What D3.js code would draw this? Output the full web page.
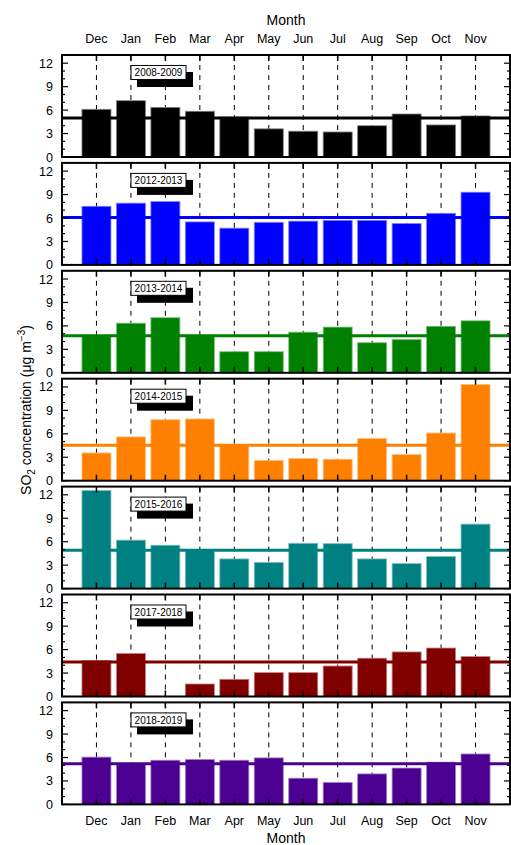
<!DOCTYPE html>
<html>
<head>
<meta charset="utf-8">
<script src="https://cdn.jsdelivr.net/npm/d3@7"></script>
<style>
  body { margin: 0; background: #fff; }
  text { font-family: "Liberation Sans", Arial, sans-serif; }
</style>
</head>
<body>
<div id="chartdiv"></div>
<script>
// data
var months = ["Dec", "Jan", "Feb", "Mar", "Apr", "May", "Jun", "Jul", "Aug", "Sep", "Oct", "Nov"];
var years = ["2008-2009", "2012-2013", "2013-2014", "2014-2015", "2015-2016", "2017-2018", "2018-2019"];
var colors = ["#000000", "#0000ff", "#008000", "#ff8000", "#008080", "#800000", "#4b0092"];

var so2_0809 = [6.1, 7.2, 6.35, 5.85, 5.1, 3.6, 3.3, 3.2, 4.0, 5.5, 4.1, 5.25];
var so2_1213 = [7.5, 7.9, 8.1, 5.5, 4.7, 5.45, 5.6, 5.7, 5.7, 5.3, 6.6, 9.3];
var so2_1314 = [4.8, 6.35, 7.05, 4.8, 2.7, 2.7, 5.2, 5.85, 3.85, 4.25, 5.95, 6.65];
var so2_1415 = [3.55, 5.6, 7.8, 7.9, 4.6, 2.6, 2.85, 2.75, 5.4, 3.35, 6.1, 12.3];
var so2_1516 = [12.55, 6.2, 5.55, 4.9, 3.8, 3.35, 5.8, 5.75, 3.8, 3.2, 4.1, 8.25];
var so2_1718 = [4.6, 5.5, null, 1.6, 2.2, 3.05, 3.05, 3.9, 4.9, 5.7, 6.2, 5.1];
var so2_1819 = [6.05, 5.2, 5.65, 5.75, 5.65, 5.95, 3.35, 2.8, 3.9, 4.65, 5.4, 6.45];
var series = [so2_0809, so2_1213, so2_1314, so2_1415, so2_1516, so2_1718, so2_1819];
var means = [5.0, 6.05, 4.75, 4.55, 4.9, 4.4, 5.2];

var yTicks = [0, 3, 6, 9, 12];

var width = 511,
    height = 845;

var left = 62, right = 510,
    top0 = 55, panelH = 102, panelStep = 107.9;

var svg = d3.select("#chartdiv")
    .append("svg")
    .attr("width", width)
    .attr("height", height);

var x = d3.scaleLinear()
    .domain([-1, 12])
    .range([left, right]);
var barW = 29;

// top month axis
svg.append("text")
    .attr("x", (x(0) + x(11)) / 2).attr("y", 25)
    .attr("text-anchor", "middle")
    .style("font-size", "14px")
    .text("Month");
svg.selectAll(".toplab")
    .data(months)
    .enter()
    .append("text")
    .attr("x", function (d, i) { return x(i); })
    .attr("y", 43)
    .attr("text-anchor", "middle")
    .style("font-size", "12.5px")
    .text(function (d) { return d; });

// panels
series.forEach(function (vals, p) {
    var ptop = top0 + p * panelStep;
    var y = d3.scaleLinear()
        .domain([0, 13.05])
        .range([ptop + panelH, ptop]);
    var g = svg.append("g");

    // dashed month lines
    g.selectAll(".grid")
        .data(months)
        .enter()
        .append("line")
        .attr("x1", function (d, i) { return x(i); })
        .attr("x2", function (d, i) { return x(i); })
        .attr("y1", ptop)
        .attr("y2", ptop + panelH)
        .attr("stroke", "#000")
        .attr("stroke-width", 1)
        .attr("stroke-dasharray", "5,5");

    // bars (missing months are skipped)
    var pts = vals.map(function (v, i) { return {i: i, v: v}; })
        .filter(function (d) { return d.v != null; });
    g.selectAll(".bar")
        .data(pts)
        .enter()
        .append("rect")
        .attr("x", function (d) { return x(d.i) - barW / 2; })
        .attr("width", barW)
        .attr("y", function (d) { return y(d.v); })
        .attr("height", function (d) { return y(0) - y(d.v); })
        .attr("fill", colors[p])
        .attr("stroke", d3.interpolateRgb(colors[p], "#fff")(0.5))
        .attr("stroke-width", 0.8);

    // mean line
    g.append("line")
        .attr("x1", left).attr("x2", right)
        .attr("y1", y(means[p])).attr("y2", y(means[p]))
        .attr("stroke", colors[p])
        .attr("stroke-width", 3);

    // left and right ticks
    var yMinor = d3.range(0, 13);
    [left, right].forEach(function (xe, s) {
        var dir = s == 0 ? 1 : -1;
        g.selectAll(".minor" + s)
            .data(yMinor)
            .enter()
            .append("line")
            .attr("x1", xe).attr("x2", function (d) { return xe + dir * (d % 3 == 0 ? 6 : 3); })
            .attr("y1", function (d) { return y(d); })
            .attr("y2", function (d) { return y(d); })
            .attr("stroke", "#000")
            .attr("stroke-width", 1.2);
    });

    // top and bottom ticks
    [ptop, ptop + panelH].forEach(function (ye, s) {
        var dir = s == 0 ? 1 : -1;
        g.selectAll(".xt" + s)
            .data(months)
            .enter()
            .append("line")
            .attr("x1", function (d, i) { return x(i); })
            .attr("x2", function (d, i) { return x(i); })
            .attr("y1", ye).attr("y2", ye + dir * 6)
            .attr("stroke", "#000")
            .attr("stroke-width", 1.5);
    });

    // y tick labels
    g.selectAll(".ylab")
        .data(yTicks)
        .enter()
        .append("text")
        .attr("x", left - 9)
        .attr("y", function (d) { return y(d); })
        .attr("dy", "0.36em")
        .attr("text-anchor", "end")
        .style("font-size", "12.5px")
        .text(function (d) { return d; });

    // frame
    g.append("rect")
        .attr("x", left).attr("y", ptop)
        .attr("width", right - left).attr("height", panelH)
        .attr("fill", "none")
        .attr("stroke", "#000")
        .attr("stroke-width", 2);

    // legend box with shadow
    g.append("rect")
        .attr("x", 137).attr("y", ptop + 17)
        .attr("width", 56).attr("height", 15)
        .attr("fill", "#000");
    g.append("rect")
        .attr("x", 131).attr("y", ptop + 10.5)
        .attr("width", 55).attr("height", 14)
        .attr("fill", "#fff")
        .attr("stroke", "#000")
        .attr("stroke-width", 1);
    g.append("text")
        .attr("x", 158.5).attr("y", ptop + 17.5)
        .attr("dy", "0.36em")
        .attr("text-anchor", "middle")
        .style("font-size", "10px")
        .text(years[p]);
});

// bottom month axis
var bottom = top0 + 6 * panelStep + panelH;
svg.selectAll(".botlab")
    .data(months)
    .enter()
    .append("text")
    .attr("x", function (d, i) { return x(i); })
    .attr("y", bottom + 21)
    .attr("text-anchor", "middle")
    .style("font-size", "12.5px")
    .text(function (d) { return d; });
svg.append("text")
    .attr("x", (x(0) + x(11)) / 2).attr("y", bottom + 39)
    .attr("text-anchor", "middle")
    .style("font-size", "14px")
    .text("Month");

// y axis title
var ytitle = svg.append("text")
    .attr("transform", "translate(31,410) rotate(-90)")
    .attr("text-anchor", "middle")
    .style("font-size", "14px");
ytitle.append("tspan").text("SO");
ytitle.append("tspan").attr("dy", 4).style("font-size", "10px").text("2");
ytitle.append("tspan").attr("dy", -4).text(" concentration (\u03bcg m");
ytitle.append("tspan").attr("dy", -6).style("font-size", "10px").text("\u22123");
ytitle.append("tspan").attr("dy", 6).text(")");
</script>
</body>
</html>
